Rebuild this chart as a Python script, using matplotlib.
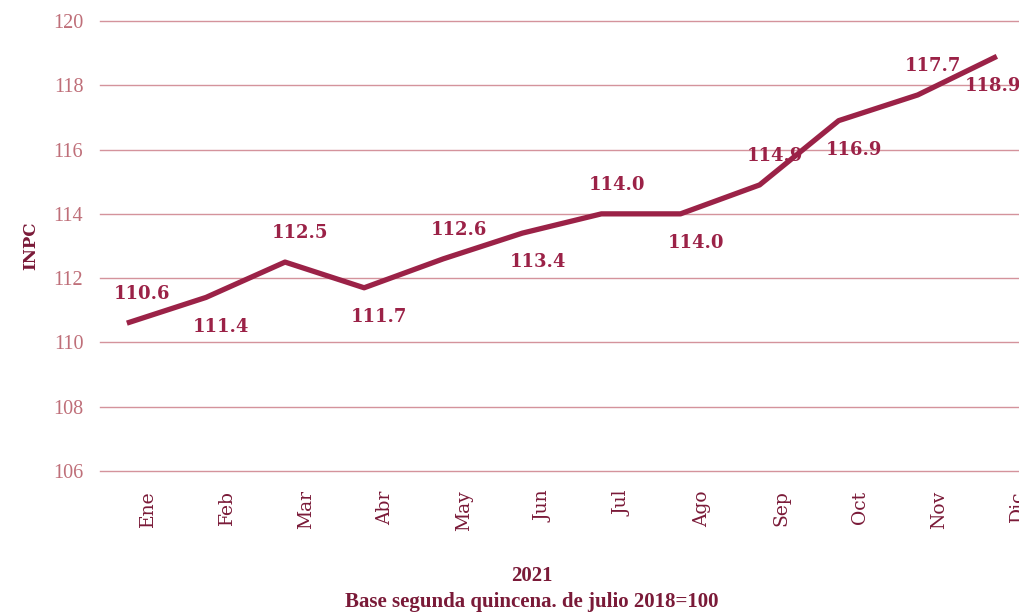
import matplotlib.pyplot as plt
import numpy as np

# datos
meses = ["Ene", "Feb", "Mar", "Abr", "May", "Jun", "Jul", "Ago", "Sep", "Oct", "Nov", "Dic"]
inpc = [110.6, 111.4, 112.5, 111.7, 112.6, 113.4, 114.0, 114.0, 114.9, 116.9, 117.7, 118.9]
y_ticks = [106, 108, 110, 112, 114, 116, 118, 120]

guinda = "#9b2247"
oscuro = "#7a1a38"
grid_color = "#d4939c"

fig = plt.figure(figsize=(10.19, 6.14), dpi=100)
ax = fig.add_axes([0.0981, 0.2329, 0.9019, 0.7329])

x = np.arange(len(meses))
ax.plot(x, inpc, color=guinda, lw=3.8, solid_capstyle="butt", zorder=3)

# etiquetas alternadas arriba / abajo
for i, v in enumerate(inpc):
    dy = 21 if i % 2 == 0 else -21
    ax.annotate(f"{v:.1f}", (x[i], v), xytext=(11 if i < 11 else -3, dy),
                textcoords="offset points", ha="center", va="center",
                fontsize=13, fontweight="bold", family="DejaVu Serif",
                color=guinda, zorder=4)

ax.set_xlim(-0.34, 11.28)
ax.set_ylim(106, 120)
ax.set_yticks(y_ticks)
ax.set_yticklabels([str(t) for t in y_ticks], fontsize=14.5, color="#bf6f79",
                   family="Liberation Serif")
ax.set_xticks(x + 0.27)
ax.set_xticklabels(meses, rotation=90, fontsize=13.5, color=oscuro,
                   family="DejaVu Serif", va="top")
ax.tick_params(axis="both", length=0)
ax.tick_params(axis="y", pad=12)
ax.tick_params(axis="x", pad=14)

ax.grid(axis="y", color=grid_color, lw=1)
for gl in ax.get_ygridlines():
    gl.set_clip_on(False)
ax.set_axisbelow(True)
for s in ax.spines.values():
    s.set_visible(False)

fig.text(0.030, 0.60, "INPC", rotation=90, ha="center", va="center",
         fontsize=12, fontweight="bold", family="DejaVu Serif", color=oscuro)
fig.text(0.522, 0.062, "2021", ha="center", va="center",
         fontsize=15, fontweight="bold", family="Liberation Serif", color=oscuro)
fig.text(0.522, 0.020, "Base segunda quincena. de julio 2018=100", ha="center",
         va="center", fontsize=15, fontweight="bold", family="Liberation Serif",
         color=oscuro)

plt.savefig("out.png", dpi=100)
